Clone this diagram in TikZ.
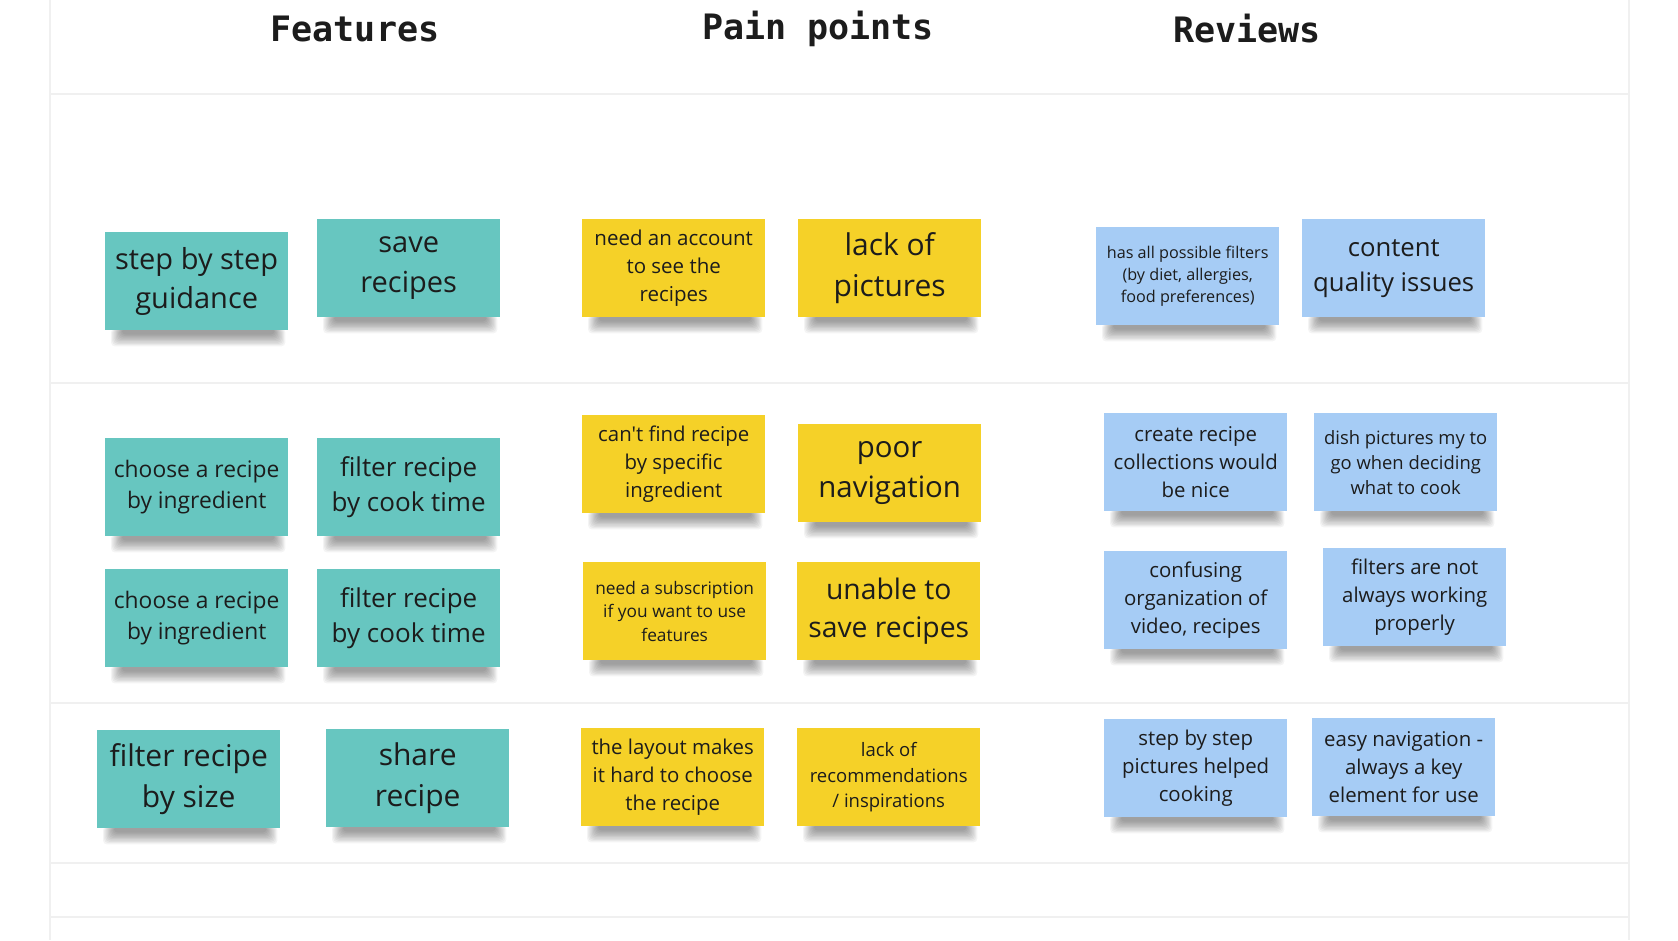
\documentclass[tikz,border=0pt]{standalone}
\usepackage{fontspec}
\setmainfont{Open Sans}[Ligatures=TeXOff]
\newfontfamily\headfont{DejaVu Sans Mono}

\definecolor{teal}{HTML}{67C6C0}
\definecolor{sun}{HTML}{F5D128}
\definecolor{sky}{HTML}{A6CCF5}
\definecolor{ink}{HTML}{1C1C1C}
\definecolor{rule}{HTML}{F0F0F0}

\pgfdeclarelayer{grid}
\pgfdeclarelayer{shade}
\pgfsetlayers{grid,shade,main}

% font size with Open Sans line spacing
\newcommand\fsz[1]{\fontsize{#1}{\fpeval{#1*1.36}}\selectfont}

\tikzset{
  note/.style={anchor=north west, minimum width=183pt, minimum height=98pt,
    inner sep=0pt, align=center, text=ink},
  heading/.style={font=\headfont\bfseries\fontsize{35}{40}\selectfont, text=ink},
  gridline/.style={draw=rule, line width=1.5pt}
}

% soft shadow under the bottom edge of a note
\newcommand\castshadow[1]{%
  \begin{pgfonlayer}{shade}
    \foreach \k in {0,...,9}{
      \fill[black, opacity=0.045, rounded corners=4pt]
        ([xshift={6+1.2*\k}, yshift=2]#1.south west) rectangle
        ([xshift={-3-1.2*\k}, yshift={-16+1.3*\k}]#1.south east);
    }
  \end{pgfonlayer}}

% name, left, top, colour, font size, text
\newcommand\sticky[6]{%
  \node[note, fill=#4, font=\fsz{#5}] (#1) at (#2,#3) {#6};
  \castshadow{#1}}

\begin{document}
\begin{tikzpicture}[x=1pt, y=-1pt]
\useasboundingbox (0,0) rectangle (1678,940);

% board background and grid
\begin{pgfonlayer}{grid}
  \fill[white] (0,0) rectangle (1678,940);
  \coordinate (gl) at (50,0);   \coordinate (gl2) at (50,940);
  \coordinate (gr) at (1629,0); \coordinate (gr2) at (1629,940);
  \draw[gridline] (gl) -- (gl2);
  \draw[gridline] (gr) -- (gr2);
  \foreach \yy in {94,383,703,863,917}{
    \draw[gridline] (50,\yy) -- (1629,\yy);
  }
\end{pgfonlayer}

% column headings
\node[heading] (hf) at (355,29) {Features};
\node[heading] (hp) at (818,29) {Pain points};
\node[heading] (hr) at (1247,29) {Reviews};

% features
\sticky{f1}{105}{232}{teal}{29}{step by step\\guidance}
\sticky{f2}{317}{219}{teal}{29}{save\\recipes}
\sticky{f3}{105}{438}{teal}{22.8}{choose a recipe\\by ingredient}
\sticky{f4}{317}{438}{teal}{26}{filter recipe\\by cook time}
\sticky{f5}{105}{569}{teal}{22.8}{choose a recipe\\by ingredient}
\sticky{f6}{317}{569}{teal}{26}{filter recipe\\by cook time}
\sticky{f7}{97}{730}{teal}{30}{filter recipe\\by size}
\sticky{f8}{326}{729}{teal}{30}{share\\recipe}

% pain points
\sticky{p1}{582}{219}{sun}{20.5}{need an account\\to see the\\recipes}
\sticky{p2}{798}{219}{sun}{30}{lack of\\pictures}
\sticky{p3}{582}{415}{sun}{20.4}{can't find recipe\\by specific\\ingredient}
\sticky{p4}{798}{424}{sun}{29.4}{poor\\navigation}
\sticky{p5}{583}{562}{sun}{17.3}{need a subscription\\if you want to use\\features}
\sticky{p6}{797}{562}{sun}{28.3}{unable to\\save recipes}
\sticky{p7}{581}{728}{sun}{20.4}{the layout makes\\it hard to choose\\the recipe}
\sticky{p8}{797}{728}{sun}{18.5}{lack of\\recommendations\\/ inspirations}

% reviews
\sticky{r1}{1096}{227}{sky}{16.2}{has all possible filters\\(by diet, allergies,\\food preferences)}
\sticky{r2}{1302}{219}{sky}{25.7}{content\\quality issues}
\sticky{r3}{1104}{413}{sky}{20.4}{create recipe\\collections would\\be nice}
\sticky{r4}{1314}{413}{sky}{18.4}{dish pictures my to\\go when deciding\\what to cook}
\sticky{r5}{1104}{551}{sky}{20.4}{confusing\\organization of\\video, recipes}
\sticky{r6}{1323}{548}{sky}{20.4}{filters are not\\always working\\properly}
\sticky{r7}{1104}{719}{sky}{20.4}{step by step\\pictures helped\\cooking}
\sticky{r8}{1312}{718}{sky}{20.4}{easy navigation -\\always a key\\element for use}
\end{tikzpicture}
\end{document}
